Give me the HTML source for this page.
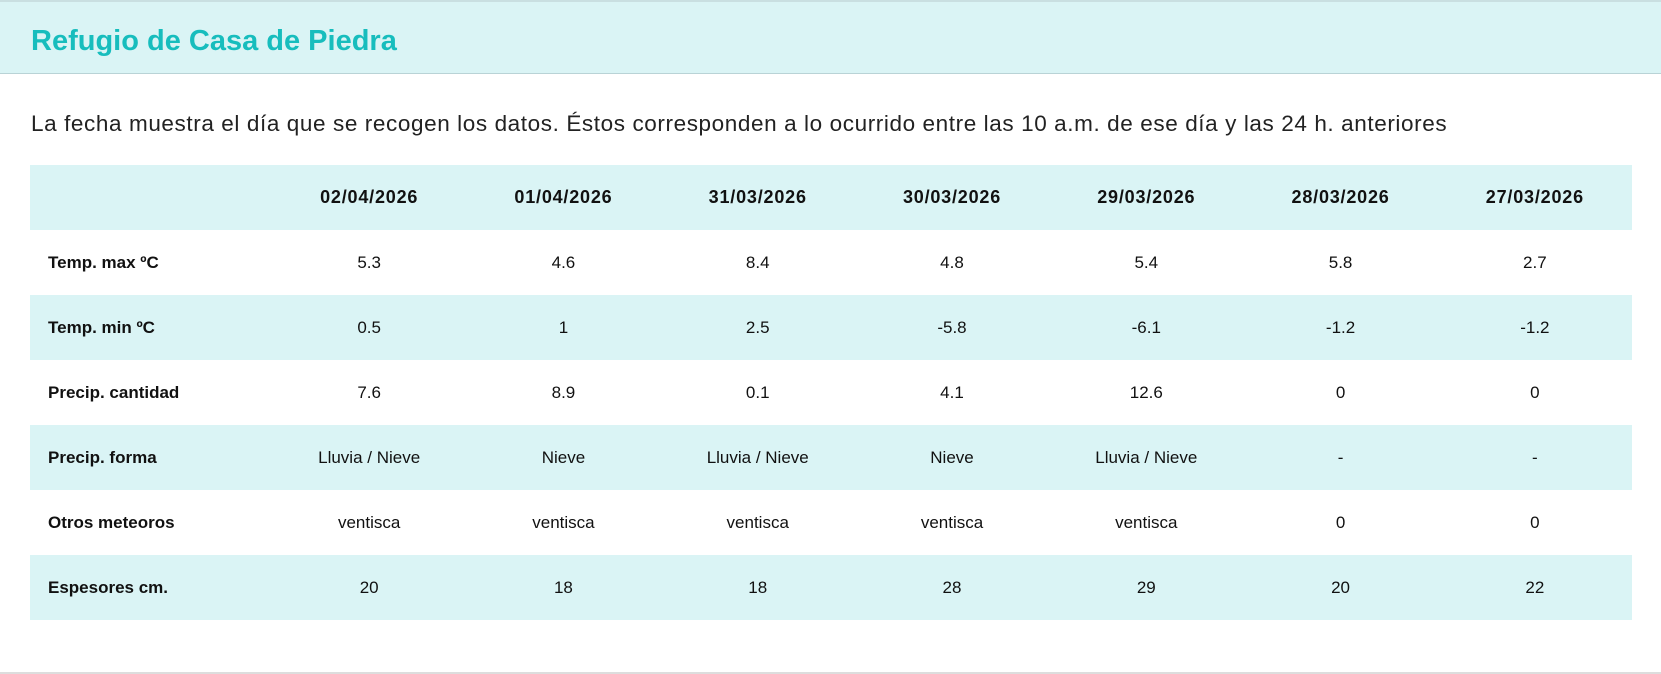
<!DOCTYPE html>
<html><head><meta charset="utf-8"><style>
body{margin:0;width:1661px;height:674px;background:#fff;font-family:"Liberation Sans",sans-serif;color:#111;position:relative;overflow:hidden}
.hdr{position:absolute;left:0;top:0;width:1661px;height:74px;background:#daf4f5;border-top:2px solid #c9dfe1;border-bottom:1px solid #b9d3d6;box-sizing:border-box}
.hdr h1{margin:0;position:absolute;left:31px;top:23px;font-size:29px;font-weight:bold;color:#17bdbd;line-height:32px}
p{position:absolute;left:31px;top:110px;margin:0;font-size:22.5px;color:#222;line-height:28px;letter-spacing:0.6px}
table{position:absolute;left:30px;top:165px;width:1602px;border-collapse:collapse;table-layout:fixed}
td,th{height:65px;padding:0;text-align:center;font-size:17px}
th{font-weight:bold;font-size:18px;letter-spacing:0.8px}
tr:nth-child(odd){background:#daf4f5}
td:first-child{text-align:left;padding-left:18px;font-weight:bold}
.bl{position:absolute;left:0;top:672px;width:1661px;height:2px;background:#ddd}
</style></head><body>
<div class="hdr"><h1>Refugio de Casa de Piedra</h1></div>
<p>La fecha muestra el día que se recogen los datos. Éstos corresponden a lo ocurrido entre las 10 a.m. de ese día y las 24 h. anteriores</p>
<table>
<colgroup><col style="width:242px"><col span="7" style="width:194.28px"></colgroup>
<tr><th></th><th>02/04/2026</th><th>01/04/2026</th><th>31/03/2026</th><th>30/03/2026</th><th>29/03/2026</th><th>28/03/2026</th><th>27/03/2026</th></tr>
<tr><td>Temp. max ºC</td><td>5.3</td><td>4.6</td><td>8.4</td><td>4.8</td><td>5.4</td><td>5.8</td><td>2.7</td></tr>
<tr><td>Temp. min ºC</td><td>0.5</td><td>1</td><td>2.5</td><td>-5.8</td><td>-6.1</td><td>-1.2</td><td>-1.2</td></tr>
<tr><td>Precip. cantidad</td><td>7.6</td><td>8.9</td><td>0.1</td><td>4.1</td><td>12.6</td><td>0</td><td>0</td></tr>
<tr><td>Precip. forma</td><td>Lluvia / Nieve</td><td>Nieve</td><td>Lluvia / Nieve</td><td>Nieve</td><td>Lluvia / Nieve</td><td>-</td><td>-</td></tr>
<tr><td>Otros meteoros</td><td>ventisca</td><td>ventisca</td><td>ventisca</td><td>ventisca</td><td>ventisca</td><td>0</td><td>0</td></tr>
<tr><td>Espesores cm.</td><td>20</td><td>18</td><td>18</td><td>28</td><td>29</td><td>20</td><td>22</td></tr>
</table>
<div class="bl"></div>
</body></html>
